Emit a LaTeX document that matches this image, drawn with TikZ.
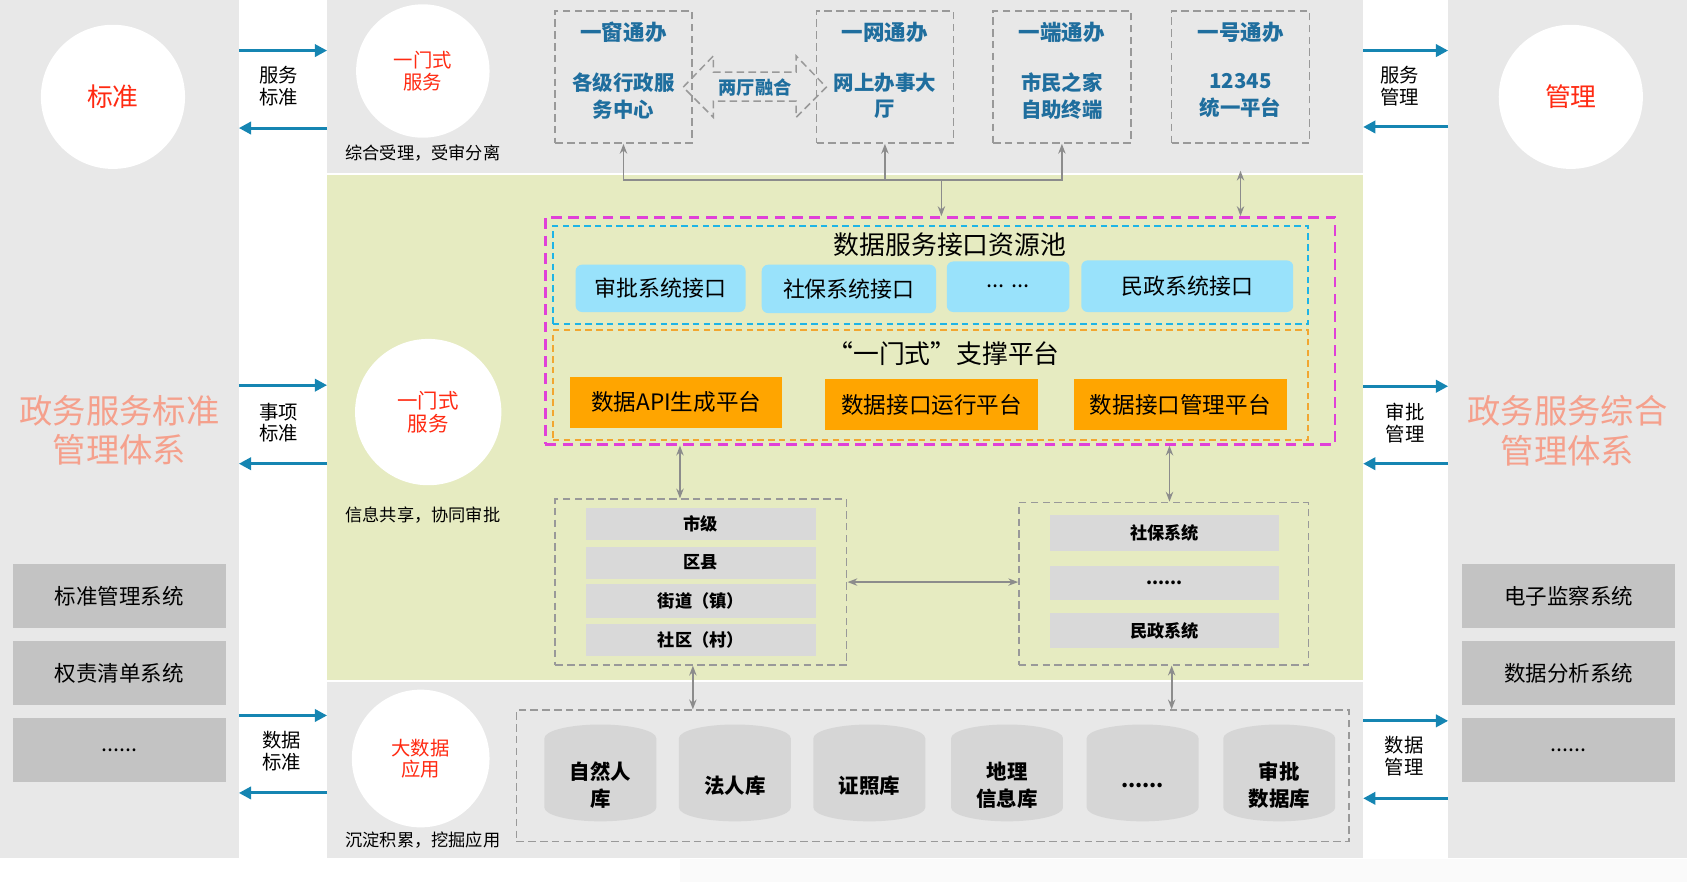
\documentclass[tikz,border=0pt]{standalone}
\usepackage{fontspec}
\setmainfont{Noto Sans CJK SC}
\usetikzlibrary{positioning,arrows.meta,shapes.geometric,fit}
\definecolor{fondo}{HTML}{E8E8E8}
\definecolor{fondotenue}{HTML}{FAFAFA}
\definecolor{verde}{HTML}{E6EBC1}
\definecolor{grismedio}{HTML}{C3C3C3}
\definecolor{grisclaro}{HTML}{D9D9D9}
\definecolor{cilindro}{HTML}{D6D6D6}
\definecolor{grisraya}{HTML}{999999}
\definecolor{grislinea}{HTML}{8C8C8C}
\definecolor{flecha}{HTML}{1585B2}
\definecolor{rojo}{HTML}{FF2A12}
\definecolor{salmon}{HTML}{F5A08C}
\definecolor{azultxt}{HTML}{1F6E9E}
\definecolor{rosa}{HTML}{E040D8}
\definecolor{cian}{HTML}{1EB4E6}
\definecolor{naranja}{HTML}{F2A630}
\definecolor{naranjafill}{HTML}{FFA500}
\definecolor{celeste}{HTML}{99E2FB}
\newcommand\fsz[2]{\fontsize{#1}{#2}\selectfont}
\newcommand\puntos{......}

\begin{document}
\begin{tikzpicture}[x=0.5pt, y=-0.5pt,
    banda/.style={inner sep=0pt, outer sep=0pt},
    caja/.style n args={4}{minimum width={(#3-#1)*0.5pt}, minimum height={(#4-#2)*0.5pt},
                           at={({(#1+#3)/2},{(#2+#4)/2})}},
    disco/.style={circle, fill=white, inner sep=0pt, text=rojo, align=center},
    flujo/.style={draw=flecha, line width=1.4pt, -{Triangle[length=2mm, width=2mm]}},
    rotulo/.style={align=center, font=\fsz{9}{10}},
    nota/.style={font=\fsz{8}{9}},
    sistema/.style={fill=grismedio, inner sep=0pt, font=\fsz{10}{12}},
    grande/.style={text=salmon, align=center, font=\fsz{15.5}{18.5}},
    marco/.style={draw=grisraya, line width=0.7pt, dash pattern=on 3.5pt off 2pt, inner sep=0pt},
    vtitulo/.style={text=azultxt, font=\bfseries\fsz{10}{12}},
    vtexto/.style={text=azultxt, align=center, font=\bfseries\fsz{9.5}{12.5}},
    enlace/.style={draw=grislinea, line width=0.8pt, -{Stealth[length=1.6mm]}},
    enlace2/.style={draw=grislinea, line width=0.8pt, {Stealth[length=1.6mm]}-{Stealth[length=1.6mm]}},
    titulo/.style={font=\fsz{12}{14}},
    interfaz/.style={fill=celeste, rounded corners=3pt, inner sep=0pt, font=\fsz{10.2}{12}},
    plataforma/.style={fill=naranjafill, inner sep=0pt, font=\fsz{10.5}{12}},
    nivel/.style={fill=grisclaro, inner sep=0pt, font=\bfseries\fsz{8}{10}},
    base/.style={cylinder, shape border rotate=90, aspect=0.45, fill=cilindro, inner sep=0pt,
                 minimum width=52pt, minimum height=45pt, font=\bfseries\fsz{9.5}{12.5}},
    basetxt/.style={align=center, font=\bfseries\fsz{9.5}{12.5}}]
  \useasboundingbox (0,0) rectangle (1568,820);
  \node[banda, fill=fondo, fit={(0,0) (222,797)}] (izq) {};
  \node[banda, fill=fondo, fit={(1346,0) (1568,797)}] (der) {};
  \node[banda, fill=fondo, fit={(304,0) (1267,161)}] (arriba) {};
  \node[banda, fill=verde, fit={(304,163) (1267,632)}] (centro) {};
  \node[banda, fill=fondo, fit={(304,634) (1267,797)}] (abajo) {};
  \fill[fondotenue] (632,798) rectangle (1568,820);

  \node[disco, minimum size=67pt, font=\fsz{12}{14}] (estandar) at (105,90) {标准};
  \node[disco, minimum size=67pt, font=\fsz{12}{14}] (gestion) at (1460,90) {管理};
  \node[grande] (sisizqt) at (111,400) {政务服务标准\\管理体系};
  \node[grande] (sisdert) at (1457,400) {政务服务综合\\管理体系};
  \foreach \n/\ya/\yb/\t in {1/524/584/标准管理系统, 2/596/655/权责清单系统, 3/667/727/\puntos}
    \node[sistema, caja={12}{\ya}{210}{\yb}] (sisizq\n) {\t};
  \foreach \n/\ya/\yb/\t in {1/524/584/电子监察系统, 2/596/655/数据分析系统, 3/667/727/\puntos}
    \node[sistema, caja={1359}{\ya}{1557}{\yb}] (sisder\n) {\t};

  \draw[flujo] (izq.east |- 0,47) -- (arriba.west |- 0,47);
  \draw[flujo] (arriba.west |- 0,119) -- (izq.east |- 0,119);
  \node[rotulo] (r1) at (259,80) {服务\\标准};
  \draw[flujo] (izq.east |- 0,358) -- (centro.west |- 0,358);
  \draw[flujo] (centro.west |- 0,431) -- (izq.east |- 0,431);
  \node[rotulo] (r2) at (259,393) {事项\\标准};
  \draw[flujo] (izq.east |- 0,665) -- (abajo.west |- 0,665);
  \draw[flujo] (abajo.west |- 0,737) -- (izq.east |- 0,737);
  \node[rotulo] (r3) at (262,698) {数据\\标准};
  \draw[flujo] (arriba.east |- 0,47) -- (der.west |- 0,47);
  \draw[flujo] (der.west |- 0,118) -- (arriba.east |- 0,118);
  \node[rotulo] (r4) at (1301,80) {服务\\管理};
  \draw[flujo] (centro.east |- 0,359) -- (der.west |- 0,359);
  \draw[flujo] (der.west |- 0,431) -- (centro.east |- 0,431);
  \node[rotulo] (r5) at (1306,393) {审批\\管理};
  \draw[flujo] (abajo.east |- 0,670) -- (der.west |- 0,670);
  \draw[flujo] (der.west |- 0,742) -- (abajo.east |- 0,742);
  \node[rotulo] (r6) at (1305,703) {数据\\管理};

  \node[disco, minimum size=62pt, font=\fsz{9}{10}] (servicio1) at (393,66) {一门式\\服务};
  \node[nota] (nota1) at (393,142) {综合受理，受审分离};
  \node[disco, minimum size=68pt, font=\fsz{9.5}{11}] (servicio2) at (398,383) {一门式\\服务};
  \node[nota] (nota2) at (393,479) {信息共享，协同审批};
  \node[disco, minimum size=64pt, font=\fsz{9}{10}] (bigdata) at (391,705) {大数据\\应用};
  \node[nota] (nota3) at (393,781) {沉淀积累，挖掘应用};

  \node[marco, fit={(516,10) (643,133)}] (v1) {};
  \node[marco, fit={(759,10) (886,133)}] (v2) {};
  \node[marco, fit={(923,10) (1051,133)}] (v3) {};
  \node[marco, fit={(1089,10) (1217,133)}] (v4) {};
  \node[vtitulo] (v1a) at (v1.north |- 0,30) {一窗通办};
  \node[vtitulo] (v2a) at (v2.north |- 0,30) {一网通办};
  \node[vtitulo] (v3a) at (v3.north |- 0,30) {一端通办};
  \node[vtitulo] (v4a) at (v4.north |- 0,30) {一号通办};
  \node[vtexto] (v1b) at (v1.north |- 0,89) {各级行政服\\务中心};
  \node[vtexto] (v2b) at (v2.north |- 0,89) {网上办事大\\厅};
  \node[vtexto] (v3b) at (v3.north |- 0,89) {市民之家\\自助终端};
  \node[vtexto] (v4b) at (v4.north |- 0,89) {12345\\统一平台};
  \draw[marco] (635,81) -- (663,52) -- (663,67) -- (740,67) -- (740,52) -- (768,81)
    -- (740,109) -- (740,94) -- (663,94) -- (663,109) -- cycle;
  \node[text=azultxt, font=\bfseries\fsz{8.5}{10}] (fusion) at (702,81) {两厅融合};

  \node[draw=rosa, line width=1.2pt, dash pattern=on 5pt off 3pt, inner sep=0pt, fit={(507,202) (1241,413)}] (marcoext) {};
  \node[draw=cian, line width=0.9pt, dash pattern=on 3pt off 2pt, inner sep=0pt, fit={(514,210) (1216,301)}] (recursos) {};
  \node[titulo] (recursost) at (883,227) {数据服务接口资源池};
  \node[interfaz, caja={535}{246}{693}{290}] (if1) {审批系统接口};
  \node[interfaz, caja={708}{246}{870}{291}] (if2) {社保系统接口};
  \node[interfaz, caja={880}{243}{994}{290}] (if3) {... ...};
  \node[interfaz, caja={1005}{242}{1202}{290}] (if4) {民政系统接口};
  \node[draw=naranja, line width=0.9pt, dash pattern=on 3pt off 2pt, inner sep=0pt, fit={(514,307) (1216,409)}] (soporte) {};
  \node[titulo] (soportet) at (877,329) {“一门式”支撑平台};
  \node[plataforma, caja={530}{350}{727}{398}] (p1) {数据API生成平台};
  \node[plataforma, caja={767}{352}{965}{400}] (p2) {数据接口运行平台};
  \node[plataforma, caja={998}{352}{1196}{400}] (p3) {数据接口管理平台};

  \node[marco, fit={(516,464) (787,618)}] (niveles) {};
  \node[nivel, caja={545}{472}{758}{502}] (n1) {市级};
  \node[nivel, caja={545}{508}{758}{538}] (n2) {区县};
  \node[nivel, caja={545}{543}{758}{574}] (n3) {街道（镇）};
  \node[nivel, caja={545}{580}{758}{610}] (n4) {社区（村）};
  \node[marco, fit={(947,467) (1216,618)}] (sistemas) {};
  \node[nivel, caja={976}{479}{1189}{512}] (s1) {社保系统};
  \node[nivel, caja={976}{526}{1189}{558}] (s2) {\puntos};
  \node[nivel, caja={976}{570}{1189}{602}] (s3) {民政系统};

  \node[marco, fit={(480,660) (1254,782)}] (bases) {};
  \foreach \n/\x/\t in {1/558/{自然人\\库}, 2/683/法人库, 3/808/证照库, 4/936/{地理\\信息库}, 5/1062/\puntos, 6/1189/{审批\\数据库}} {
    \node[base] (db\n) at (\x,725) {\phantom{法人库}};
    \node[basetxt] (db\n t) at ([yshift=-2.5pt]db\n.center) {\t};
  }

  \coordinate (nudo) at (875,167);
  \draw[enlace] (nudo) -| (v1.south);
  \draw[enlace] (nudo) -| (v2.south);
  \draw[enlace] (nudo) -| (v3.south);
  \draw[enlace] (nudo) -- (nudo |- marcoext.north);
  \draw[enlace2] ([yshift=-12.5pt]v4.south) -- (v4.south |- marcoext.north);
  \draw[enlace2] ([xshift=-9.75pt]niveles.north) -- ([xshift=-9.75pt]niveles.north |- marcoext.south);
  \draw[enlace2] ([xshift=2.75pt]sistemas.north) -- ([xshift=2.75pt]sistemas.north |- marcoext.south);
  \draw[enlace2] (niveles.east) -- (niveles.east -| sistemas.west);
  \draw[enlace2] ([xshift=-3.75pt]niveles.south) -- ([xshift=-3.75pt]niveles.south |- bases.north);
  \draw[enlace2] ([xshift=3.75pt]sistemas.south) -- ([xshift=3.75pt]sistemas.south |- bases.north);
\end{tikzpicture}
\end{document}
